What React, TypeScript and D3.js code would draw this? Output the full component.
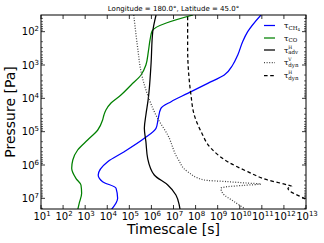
import React from 'react';
import * as d3 from 'd3';

// [log10 timescale (s), log10 pressure (Pa)]
const tauCH4: [number, number][] = [
  [10.96, 1.5], [10.36, 2.0], [10.13, 2.3], [9.91, 2.7], [9.68, 3.0], [9.3, 3.3],
  [8.55, 3.55], [7.64, 3.85], [6.89, 4.1], [6.43, 4.3], [6.31, 4.6], [6.21, 4.9],
  [5.68, 5.2], [4.77, 5.6], [4.02, 5.9], [3.59, 6.3], [3.79, 6.5], [4.4, 6.7],
  [4.47, 7.0], [4.17, 7.35],
];
const tauCO: [number, number][] = [
  [7.88, 1.5], [6.03, 1.98], [5.95, 2.2], [5.86, 2.6], [5.75, 3.0], [5.53, 3.3],
  [5.08, 3.6], [4.62, 3.9], [4.17, 4.14], [3.94, 4.35], [3.85, 4.5], [3.79, 4.65],
  [3.57, 4.95], [3.11, 5.25], [2.66, 5.55], [2.44, 5.85], [2.39, 6.1], [2.58, 6.4],
  [2.81, 6.6], [2.84, 6.85], [2.73, 7.15], [2.66, 7.35],
];
const tauAdv: [number, number][] = [
  [6.21, 1.5], [6.06, 2.0], [5.98, 3.0], [5.86, 4.0], [5.75, 4.5], [5.68, 4.9],
  [5.75, 5.3], [5.83, 5.8], [6.13, 6.3], [6.74, 6.6], [7.11, 6.9], [7.26, 7.2],
  [7.3, 7.35],
];
const tauDynV: [number, number][] = [
  [5.2, 1.5], [5.38, 2.5], [5.53, 3.2], [5.83, 3.9], [6.28, 4.6], [6.74, 5.1],
  [7.19, 5.8], [7.64, 6.2], [8.39, 6.45], [9.45, 6.5], [10.3, 6.54], [10.96, 6.57],
  [10.2, 6.61], [9.45, 6.65], [9.15, 6.7], [9.23, 6.85], [9.75, 7.1], [10.21, 7.3],
];
const tauDynH: [number, number][] = [
  [7.64, 1.55], [7.64, 2.5], [7.72, 3.5], [7.79, 3.9], [7.94, 4.5], [8.25, 5.0],
  [8.7, 5.5], [9.45, 5.9], [10.36, 6.2], [11.27, 6.45], [12.17, 6.6], [12.35, 6.64],
  [12.18, 6.7], [12.92, 7.0], [13.4, 7.15],
];

const xTickExps = d3.range(1, 14);
const yTickExps = d3.range(2, 8);
const title = 'Longitude = 180.0°, Latitude = 45.0°';

const W = 324;
const H = 243;
const m = { left: 41, right: 306, top: 15, bottom: 209 };

export default function App() {
  const x = d3.scaleLog().domain([1e1, 1e13]).range([m.left, m.right]);
  const y = d3.scaleLog().domain([Math.pow(10, 1.5), Math.pow(10, 7.32)]).range([m.top, m.bottom]);

  const line = d3.line<[number, number]>()
    .x(d => x(Math.pow(10, d[0])))
    .y(d => y(Math.pow(10, d[1])))
    .curve(d3.curveMonotoneY);

  const yMinor: number[] = [];
  for (let e = 1; e <= 7; e++) {
    for (let k = 2; k <= 9; k++) {
      const v = k * Math.pow(10, e);
      if (v >= y.domain()[0] && v <= y.domain()[1]) yMinor.push(v);
    }
  }

  const series = [
    { data: tauCH4, color: '#0000ff', dash: undefined as string | undefined },
    { data: tauCO, color: '#008000', dash: undefined },
    { data: tauAdv, color: '#000', dash: undefined },
    { data: tauDynV, color: '#444', dash: '1,1.6' },
    { data: tauDynH, color: '#000', dash: '3.6,2.6' },
  ];

  const font = 'DejaVu Sans, sans-serif';
  const legY = [25.5, 38, 50, 62.5, 75.5];
  const lx = 264;
  const tx = 284;

  return (
    <svg width={W} height={H} style={{ position: 'absolute', left: 0, top: 0 }} fontFamily={font}>
      <rect width={W} height={H} fill="#fff" />
      <defs>
        <clipPath id="plot">
          <rect x={m.left} y={m.top} width={m.right - m.left} height={m.bottom - m.top} />
        </clipPath>
      </defs>
      <text x={(m.left + m.right) / 2} y={11} fontSize={7} textAnchor="middle">{title}</text>

      <g clipPath="url(#plot)">
        {series.map((s, i) => (
          <path key={i} d={line(s.data) || ''} fill="none" stroke={s.color}
            strokeWidth={1.25} strokeDasharray={s.dash} />
        ))}
      </g>

      {/* ticks */}
      {xTickExps.map(e => {
        const px = x(Math.pow(10, e));
        return (
          <g key={'x' + e}>
            <line x1={px} x2={px} y1={m.bottom} y2={m.bottom - 4} stroke="#000" strokeWidth={0.8} />
            <line x1={px} x2={px} y1={m.top} y2={m.top + 4} stroke="#000" strokeWidth={0.8} />
            <text x={px + 1} y={219.5} fontSize={10} textAnchor="middle">
              10<tspan fontSize={7} dy={-4}>{e}</tspan>
            </text>
          </g>
        );
      })}
      {yTickExps.map(e => {
        const py = y(Math.pow(10, e));
        return (
          <g key={'y' + e}>
            <line x1={m.left} x2={m.left + 4} y1={py} y2={py} stroke="#000" strokeWidth={0.8} />
            <line x1={m.right} x2={m.right - 4} y1={py} y2={py} stroke="#000" strokeWidth={0.8} />
            <text x={39} y={py + 3.8} fontSize={10} textAnchor="end">
              10<tspan fontSize={7} dy={-4}>{e}</tspan>
            </text>
          </g>
        );
      })}
      {yMinor.map((v, i) => {
        const py = y(v);
        return (
          <g key={'ym' + i}>
            <line x1={m.left} x2={m.left + 2} y1={py} y2={py} stroke="#000" strokeWidth={0.6} />
            <line x1={m.right} x2={m.right - 2} y1={py} y2={py} stroke="#000" strokeWidth={0.6} />
          </g>
        );
      })}

      <rect x={m.left} y={m.top} width={m.right - m.left} height={m.bottom - m.top}
        fill="none" stroke="#000" strokeWidth={1} />

      {/* legend */}
      {series.map((s, i) => (
        <line key={'l' + i} x1={lx} x2={lx + 11} y1={legY[i]} y2={legY[i]} stroke={s.color}
          strokeWidth={1.25} strokeDasharray={s.dash} />
      ))}
      <g fontSize={8} fontFamily="DejaVu Serif, serif">
        <text x={tx} y={legY[0] + 2.5}>τ<tspan fontSize={5.5} dy={1.5}>CH</tspan><tspan fontSize={4} dy={1}>4</tspan></text>
        <text x={tx} y={legY[1] + 2.5}>τ<tspan fontSize={5.5} dy={1.5}>CO</tspan></text>
        {[['H', 'adv'], ['V', 'dyn'], ['H', 'dyn']].map(([sup, sub], i) => (
          <g key={'t' + i}>
            <text x={tx} y={legY[i + 2] + 2.5}>τ</text>
            <text x={tx + 4.3} y={legY[i + 2] - 1.2} fontSize={4.5}>{sup}</text>
            <text x={tx + 4.3} y={legY[i + 2] + 4.2} fontSize={5.5}>{sub}</text>
          </g>
        ))}
      </g>

      <text x={(m.left + m.right) / 2} y={234} fontSize={14} textAnchor="middle">Timescale [s]</text>
      <text transform={`translate(15,${(m.top + m.bottom) / 2}) rotate(-90)`} fontSize={14}
        textAnchor="middle">Pressure [Pa]</text>
    </svg>
  );
}
